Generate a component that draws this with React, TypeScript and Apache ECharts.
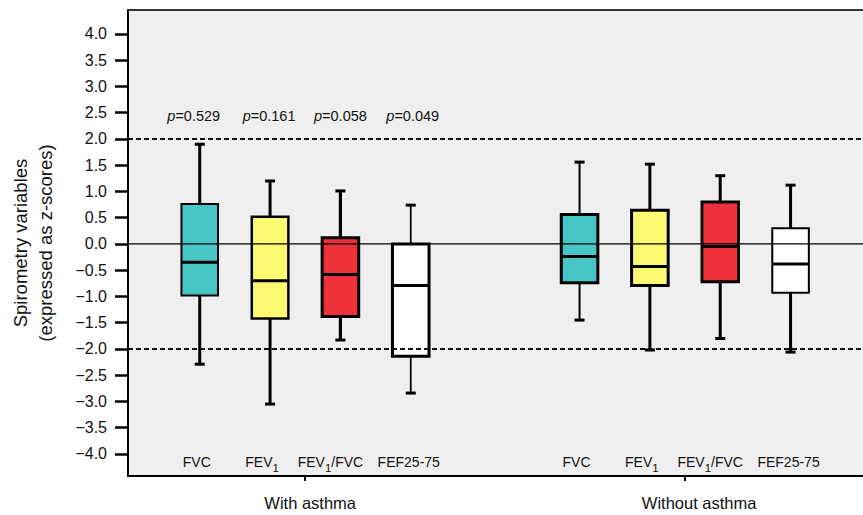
import React, { useEffect, useRef } from 'react';
import * as echarts from 'echarts';

// ---------- data ----------
const variables = ['FVC', 'FEV1', 'FEV1/FVC', 'FEF25-75'];
const groupNames = ['With asthma', 'Without asthma'];
// [min, Q1, median, Q3, max]
const withAsthma = [
  [-2.29, -0.98, -0.35, 0.76, 1.9],
  [-3.05, -1.42, -0.7, 0.52, 1.2],
  [-1.83, -1.38, -0.58, 0.12, 1.01],
  [-2.84, -2.14, -0.79, 0.0, 0.74],
];
const withoutAsthma = [
  [-1.45, -0.74, -0.24, 0.56, 1.56],
  [-2.02, -0.79, -0.43, 0.64, 1.52],
  [-1.8, -0.72, -0.05, 0.8, 1.3],
  [-2.06, -0.93, -0.38, 0.3, 1.12],
];
const pValues = ['0.529', '0.161', '0.058', '0.049'];
const yTickValues = [-4, -3.5, -3, -2.5, -2, -1.5, -1, -0.5, 0, 0.5, 1, 1.5, 2, 2.5, 3, 3.5, 4];
const zeroLine = [0];
const limitLines = [-2, 2];

// ---------- layout / style ----------
const FONT = '"Liberation Sans", Arial, Helvetica, sans-serif';
const GROUP_OFFSET = 5.4;
const X_MIN = -1.02;
const X_MAX = 9.43;
const Y_MIN = -4.42;
const Y_MAX = 4.457;
const BOX_WIDTH = 0.52;
const CAP_HALF = 5;
const P_LABEL_Y = 2.44;
const VAR_LABEL_Y = -4.15;
const GROUP_TICK_POS = [1.5, 6.9];
const GROUP_LABEL_POS = [1.57, 7.1];
const boxColors = ['#48c5c6', '#fcfa71', '#ef323a', '#ffffff'];
const boxLineWidths = [
  [2, 2.5, 3, 3],
  [3, 3, 2.8, 2],
];
const whiskerLineWidths = [
  [3, 3, 3.2, 1.8],
  [2, 3, 3, 3],
];
const pLabelShift = [-6, -1, 0, 2];
const varLabelShift = [-3, -8, -10, -2];

const groupsData = [withAsthma, withoutAsthma];

function richLabel(name: string): string {
  return name
    .split(/(FEV1)/)
    .filter((s) => s.length > 0)
    .map((part) => (part === 'FEV1' ? '{n|FEV}{s|1}' : `{n|${part}}`))
    .join('');
}

function fmtTick(v: number): string {
  const s = Math.abs(v).toFixed(1);
  return v < 0 ? '\u2212' + s : s;
}

export default function App() {
  const ref = useRef<HTMLDivElement>(null);

  useEffect(() => {
    document.body.style.margin = '0';
    if (!ref.current) return;
    const chart = echarts.init(ref.current, undefined, { renderer: 'svg' });

    const boxData: number[][] = [];
    groupsData.forEach((grp, g) => {
      grp.forEach((st, i) => {
        boxData.push([g * GROUP_OFFSET + i, st[0], st[1], st[2], st[3], st[4], g, i]);
      });
    });

    const refData: number[][] = [
      ...zeroLine.map((v) => [0, v, 0]),
      ...limitLines.map((v) => [0, v, 1]),
    ];

    const pData = pValues.map((_, i) => [i, P_LABEL_Y, i]);
    const varData: number[][] = [];
    groupNames.forEach((_, g) => {
      variables.forEach((__, i) => varData.push([g * GROUP_OFFSET + i, VAR_LABEL_Y, i]));
    });

    const option: any = {
      animation: false,
      grid: {
        left: 127,
        right: -10,
        top: 10,
        bottom: 39,
        show: true,
        backgroundColor: '#efefef',
        borderWidth: 0,
      },
      xAxis: [
        {
          type: 'value',
          min: X_MIN,
          max: X_MAX,
          position: 'bottom',
          axisLine: { show: true, onZero: false, lineStyle: { color: '#000', width: 2 } },
          axisTick: {
            show: true,
            customValues: GROUP_TICK_POS,
            length: 5,
            lineStyle: { color: '#000', width: 2 },
          },
          axisLabel: { show: false },
          splitLine: { show: false },
        },
        {
          type: 'value',
          min: X_MIN,
          max: X_MAX,
          position: 'bottom',
          axisLine: { show: false, onZero: false },
          axisTick: { show: false },
          axisLabel: {
            show: true,
            customValues: GROUP_LABEL_POS,
            formatter: (v: number) => {
              const idx = GROUP_LABEL_POS.findIndex((p) => Math.abs(p - v) < 1e-6);
              return idx >= 0 ? groupNames[idx] : '';
            },
            fontSize: 16.5,
            fontFamily: FONT,
            color: '#111',
            margin: 18,
          },
          splitLine: { show: false },
        },
        {
          type: 'value',
          min: X_MIN,
          max: X_MAX,
          position: 'top',
          axisLine: { show: true, onZero: false, lineStyle: { color: '#333', width: 2 } },
          axisTick: { show: false },
          axisLabel: { show: false },
          splitLine: { show: false },
        },
      ],
      yAxis: {
        type: 'value',
        min: Y_MIN,
        max: Y_MAX,
        position: 'left',
        name: 'Spirometry variables\n(expressed as z-scores)',
        nameLocation: 'middle',
        nameRotate: 90,
        nameGap: 70,
        nameTextStyle: {
          fontSize: 18.5,
          lineHeight: 25,
          fontFamily: FONT,
          color: '#111',
        },
        axisLine: { show: true, onZero: false, lineStyle: { color: '#000', width: 2 } },
        axisTick: {
          show: true,
          customValues: yTickValues,
          length: 13,
          lineStyle: { color: '#000', width: 2.5 },
        },
        axisLabel: {
          show: true,
          customValues: yTickValues,
          formatter: (v: number) => fmtTick(v),
          fontSize: 16,
          fontFamily: FONT,
          color: '#111',
          margin: 21,
        },
        splitLine: { show: false },
      },
      series: [
        {
          type: 'custom',
          name: 'boxes',
          xAxisIndex: 0,
          z: 2,
          data: boxData,
          encode: { x: 0, y: [1, 2, 3, 4, 5] },
          renderItem: (params: any, api: any) => {
            const x = api.value(0);
            const g = api.value(6);
            const i = api.value(7);
            const pMin = api.coord([x, api.value(1)]);
            const cx = pMin[0];
            const yMin = pMin[1];
            const yQ1 = api.coord([x, api.value(2)])[1];
            const yMed = api.coord([x, api.value(3)])[1];
            const yQ3 = api.coord([x, api.value(4)])[1];
            const yMax = api.coord([x, api.value(5)])[1];
            const half = api.size([BOX_WIDTH, 0])[0] / 2;
            const bw = boxLineWidths[g][i];
            const ww = whiskerLineWidths[g][i];
            const stroke = '#000';
            return {
              type: 'group',
              children: [
                { type: 'line', shape: { x1: cx, y1: yQ3, x2: cx, y2: yMax }, style: { stroke, lineWidth: ww } },
                { type: 'line', shape: { x1: cx - CAP_HALF, y1: yMax, x2: cx + CAP_HALF, y2: yMax }, style: { stroke, lineWidth: 3 } },
                { type: 'line', shape: { x1: cx, y1: yQ1, x2: cx, y2: yMin }, style: { stroke, lineWidth: ww } },
                { type: 'line', shape: { x1: cx - CAP_HALF, y1: yMin, x2: cx + CAP_HALF, y2: yMin }, style: { stroke, lineWidth: 3 } },
                {
                  type: 'rect',
                  shape: { x: cx - half, y: yQ3, width: half * 2, height: yQ1 - yQ3 },
                  style: { fill: boxColors[i], stroke, lineWidth: bw },
                },
                { type: 'line', shape: { x1: cx - half, y1: yMed, x2: cx + half, y2: yMed }, style: { stroke, lineWidth: 3 } },
              ],
            };
          },
        },
        {
          type: 'custom',
          name: 'refLines',
          xAxisIndex: 0,
          z: 5,
          silent: true,
          data: refData,
          encode: { x: 0, y: 1 },
          renderItem: (params: any, api: any) => {
            const y = api.coord([0, api.value(1)])[1];
            const cs = params.coordSys;
            const dashed = api.value(2) === 1;
            return {
              type: 'line',
              shape: { x1: cs.x, y1: y, x2: cs.x + cs.width, y2: y },
              style: dashed
                ? { stroke: '#111', lineWidth: 2, lineDash: [5, 3] }
                : { stroke: '#000', lineWidth: 1.3 },
            };
          },
        },
        {
          type: 'custom',
          name: 'pLabels',
          xAxisIndex: 0,
          z: 6,
          silent: true,
          data: pData,
          encode: { x: 0, y: 1 },
          renderItem: (params: any, api: any) => {
            const i = api.value(2);
            const pt = api.coord([api.value(0), api.value(1)]);
            const base = { fontSize: 14.5, fontFamily: FONT, fill: '#111' };
            return {
              type: 'text',
              x: pt[0] + pLabelShift[i],
              y: pt[1],
              style: {
                text: `{i|p}{n|=${pValues[i]}}`,
                ...base,
                rich: {
                  i: { ...base, fontStyle: 'italic' },
                  n: { ...base },
                },
                align: 'center',
                verticalAlign: 'middle',
              },
            };
          },
        },
        {
          type: 'custom',
          name: 'varLabels',
          xAxisIndex: 0,
          z: 6,
          silent: true,
          data: varData,
          encode: { x: 0, y: 1 },
          renderItem: (params: any, api: any) => {
            const i = api.value(2);
            const pt = api.coord([api.value(0), api.value(1)]);
            const base = { fontSize: 14, fontFamily: FONT, fill: '#111' };
            return {
              type: 'text',
              x: pt[0] + varLabelShift[i],
              y: pt[1],
              style: {
                text: richLabel(variables[i]),
                ...base,
                rich: {
                  n: { ...base },
                  s: { fontSize: 11.5, fontFamily: FONT, fill: '#111', padding: [12, 0, 0, 0] },
                },
                align: 'center',
                verticalAlign: 'middle',
              },
            };
          },
        },
      ],
    };

    chart.setOption(option);
    return () => {
      chart.dispose();
    };
  }, []);

  return <div ref={ref} style={{ width: 863, height: 515 }} />;
}
